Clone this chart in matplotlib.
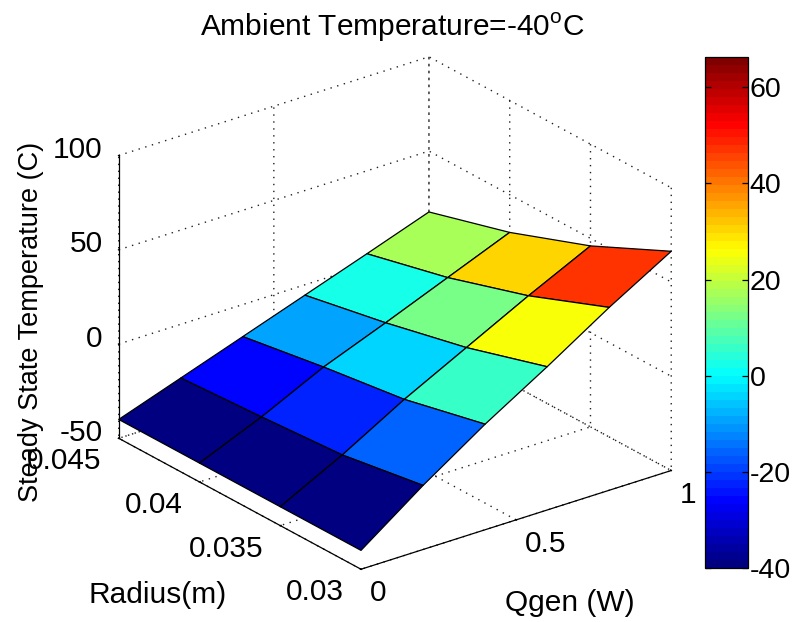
"""Steady state temperature surface, ambient -40 C."""
import numpy as np
import matplotlib
matplotlib.use('Agg')
import matplotlib.pyplot as plt
from matplotlib.cm import ScalarMappable
from matplotlib.colors import LinearSegmentedColormap, Normalize
from mpl_toolkits.mplot3d import proj3d

plt.rcParams['font.family'] = ['Liberation Sans', 'DejaVu Sans']
plt.rcParams['mathtext.fontset'] = 'custom'
plt.rcParams['mathtext.rm'] = 'Liberation Sans'
plt.rcParams['axes.unicode_minus'] = False

# values
qgen = [0, 0.2, 0.4, 0.6, 0.8, 1]
radius = [0.03, 0.035, 0.04, 0.045]
temp_r030 = [-40, -16, 6, 26, 47, 66.3]
temp_r035 = [-40, -23, -4, 13, 30, 46]
temp_r040 = [-40, -26, -10, 3, 16.5, 30]
temp_r045 = [-40, -28.5, -17, -5.5, 6, 17.7]

q_ticks = [0, 0.5, 1]
q_ticklabels = ['0', '0.5', '1']
r_ticks = [0.03, 0.035, 0.04, 0.045]
r_ticklabels = ['0.03', '0.035', '0.04', '0.045']
z_ticks = [-50, 0, 50, 100]
z_ticklabels = ['-50', '0', '50', '100']
cbar_ticks = [-40, -20, 0, 20, 40, 60]

W, H = 794, 622
FS = 21.5

Q, R = np.meshgrid(qgen, radius)
T = np.array([temp_r030, temp_r035, temp_r040, temp_r045])

# matlab's jet, 64 levels
jet_segments = {
    'red': [(0, 0, 0), (0.375, 0, 0), (0.625, 1, 1), (0.875, 1, 1), (1, 0.5, 0.5)],
    'green': [(0, 0, 0), (0.125, 0, 0), (0.375, 1, 1), (0.625, 1, 1), (0.875, 0, 0), (1, 0, 0)],
    'blue': [(0, 0.5, 0.5), (0.125, 1, 1), (0.375, 1, 1), (0.625, 0, 0), (1, 0, 0)],
}
cmap = LinearSegmentedColormap('matlab_jet', jet_segments, N=64)
norm = Normalize(T.min(), T.max())

fig = plt.figure(figsize=(W / 100, H / 100), dpi=100)
L = 620
ax = fig.add_axes([76.6 / W, -9.4 / H, L / W, L / H], projection='3d')
ax.set_proj_type('ortho')
ax.view_init(elev=24.5, azim=-127.5)
ax.set_box_aspect((392, 399, 311.5))
ax.patch.set_alpha(0)

ax.plot_surface(Q, R, T, facecolors=cmap(norm(T)), rstride=1, cstride=1,
                shade=False, edgecolor='k', linewidth=0.9)

ax.set_xlim(0, 1)
ax.set_ylim(0.03, 0.045)
ax.set_zlim(-50, 100)
ax.set_xticks(q_ticks)
ax.set_yticks(r_ticks)
ax.set_zticks(z_ticks)
# tick labels go in by hand, mplot3d can't place them where matlab does
ax.set_xticklabels([])
ax.set_yticklabels([])
ax.set_zticklabels([])


def tick_text(x, y, z, s, ha, dx, dy):
    # project the tick position to pixels, then offset the label from it
    x2, y2, _ = proj3d.proj_transform(x, y, z, ax.get_proj())
    px, py = ax.transData.transform((x2, y2))
    fig.text((px + dx) / W, (py - dy) / H, s, ha=ha, va='center', fontsize=FS)


for q, s in zip(q_ticks, q_ticklabels):
    tick_text(q, radius[0], -50, s, 'left', 9, 24)
for r, s in zip(r_ticks, r_ticklabels):
    tick_text(0, r, -50, s, 'right', -17, 23)
for z, s in zip(z_ticks, z_ticklabels):
    tick_text(0, radius[-1], z, s, 'right', -16, -5.5)

for axis in (ax.xaxis, ax.yaxis, ax.zaxis):
    axis.set_pane_color((1, 1, 1, 0))
    axis.pane.set_edgecolor('none')
    axis.line.set_color('k')
    axis.line.set_linewidth(0.9)
    axis._axinfo['grid'].update(color='#222222', linewidth=1.0, linestyle=(0, (1, 4)))
    axis._axinfo['tick'].update(inward_factor=0.01, outward_factor=0.03, linewidth={True: 0.9, False: 0.9})

ax.set_xlabel('')
ax.set_ylabel('')
ax.set_zlabel('')

fig.text(392 / W, 1 - 27 / H, 'Ambient Temperature=-40$^{\\mathrm{o}}$C',
         ha='center', va='center', fontsize=FS)
fig.text(158 / W, 1 - 595 / H, 'Radius(m)', ha='center', va='center', fontsize=FS)
fig.text(570 / W, 1 - 603 / H, 'Qgen (W)', ha='center', va='center', fontsize=FS)
fig.text(31 / W, 1 - 322 / H, 'Steady State Temperature (C)', rotation=90,
         ha='center', va='center', fontsize=19.5)

cax = fig.add_axes([704.5 / W, 1 - 568 / H, 43.5 / W, 511 / H])
cb = fig.colorbar(ScalarMappable(norm=norm, cmap=cmap), cax=cax, ticks=cbar_ticks)
cb.ax.tick_params(labelsize=20.5, direction='in', left=True, right=True, length=4,
                  width=0.9, pad=1)
cb.outline.set_linewidth(0.9)

fig.savefig('out.png', dpi=100)
